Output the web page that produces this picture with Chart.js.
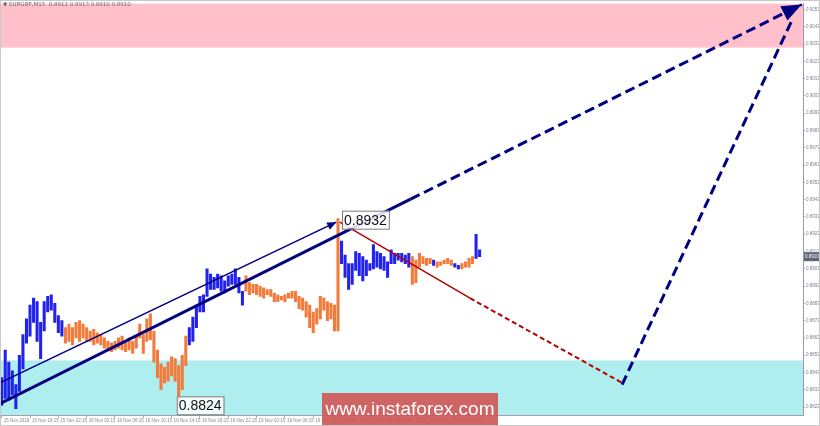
<!DOCTYPE html>
<html>
<head>
<meta charset="utf-8">
<script src="https://cdn.jsdelivr.net/npm/chart.js@4.4.1/dist/chart.umd.min.js"></script>
<style>
  html, body { margin: 0; padding: 0; background: #fff; }
  #wrap { width: 820px; height: 426px; position: relative; }
</style>
</head>
<body>
<div id="wrap"><canvas id="chart" width="820" height="426"></canvas></div>
<script>
// EURGBP M15, one entry = 30 min (x unit = one 15 min bar)
const timeLabels = [
  '15 Nov 2018', '15 Nov 18:15', '15 Nov 22:15', '16 Nov 02:15', '16 Nov 06:15',
  '16 Nov 10:15', '16 Nov 14:15', '16 Nov 18:15', '16 Nov 22:15', '19 Nov 02:15',
  '19 Nov 06:15', '19 Nov 10:15', '19 Nov 14:15', '19 Nov 18:15', '19 Nov 22:15',
  '20 Nov 02:15', '20 Nov 06:15'
];

const yTicks = [
  0.8823, 0.8833, 0.8843, 0.8853, 0.8863, 0.8873, 0.8883, 0.8893, 0.8903, 0.8913,
  0.8923, 0.8933, 0.8943, 0.8953, 0.8963, 0.8973, 0.8983, 0.8993, 0.9003, 0.9013,
  0.9023, 0.9033, 0.9043, 0.9053
];

const highs = [
  0.8840, 0.8856, 0.8849, 0.8844, 0.8836, 0.8853, 0.8865, 0.8874, 0.8882, 0.8886,
  0.8884, 0.8872, 0.8884, 0.8887, 0.8888, 0.8883, 0.8876, 0.8873, 0.8869, 0.8871,
  0.8869, 0.8872, 0.8873, 0.8871, 0.8869, 0.8867, 0.8868, 0.8866, 0.8865, 0.8863,
  0.8861, 0.8860, 0.8861, 0.8863, 0.8864, 0.8861, 0.8863, 0.8861, 0.8864, 0.8871,
  0.8865, 0.8874, 0.8877, 0.8867, 0.8856, 0.8848, 0.8846, 0.8849, 0.8852, 0.8851,
  0.8847, 0.8853, 0.8864, 0.8869, 0.8875, 0.8882, 0.8887, 0.8888, 0.8903, 0.8900,
  0.8898, 0.8900, 0.8899, 0.8896, 0.8899, 0.8900, 0.8903, 0.8898, 0.8890, 0.8899,
  0.8895, 0.8894, 0.8894, 0.8893, 0.8892, 0.8891, 0.8891, 0.8889, 0.8888, 0.8887,
  0.8888, 0.8889, 0.8890, 0.8890, 0.8887, 0.8886, 0.8884, 0.8882, 0.8878, 0.8880,
  0.8887, 0.8886, 0.8884, 0.8883, 0.8882, 0.8932, 0.8919, 0.8911, 0.8906, 0.8906,
  0.8913, 0.8912, 0.8910, 0.8908, 0.8906, 0.8917, 0.8913, 0.8912, 0.8910, 0.8907,
  0.8914, 0.8912, 0.8912, 0.8912, 0.8911, 0.8912, 0.8910, 0.8908, 0.8912, 0.8910,
  0.8909, 0.8909, 0.8908, 0.8907, 0.8907, 0.8908, 0.8909, 0.8908, 0.8906, 0.8905,
  0.8906, 0.8907, 0.8909, 0.8910, 0.8923, 0.8914
];

const lows = [
  0.8824, 0.8828, 0.8827, 0.8830, 0.8822, 0.8832, 0.8845, 0.8860, 0.8864, 0.8872,
  0.8861, 0.8851, 0.8867, 0.8878, 0.8879, 0.8872, 0.8866, 0.8864, 0.8860, 0.8861,
  0.8859, 0.8863, 0.8861, 0.8863, 0.8861, 0.8861, 0.8859, 0.8860, 0.8859, 0.8857,
  0.8856, 0.8855, 0.8856, 0.8857, 0.8856, 0.8855, 0.8856, 0.8854, 0.8857, 0.8863,
  0.8854, 0.8861, 0.8862, 0.8849, 0.8840, 0.8833, 0.8837, 0.8838, 0.8841, 0.8838,
  0.8824, 0.8833, 0.8847, 0.8859, 0.8861, 0.8869, 0.8878, 0.8878, 0.8887, 0.8891,
  0.8891, 0.8892, 0.8890, 0.8889, 0.8893, 0.8894, 0.8894, 0.8889, 0.8882, 0.8890,
  0.8888, 0.8889, 0.8888, 0.8887, 0.8886, 0.8888, 0.8887, 0.8884, 0.8884, 0.8885,
  0.8884, 0.8886, 0.8886, 0.8884, 0.8880, 0.8879, 0.8875, 0.8869, 0.8866, 0.8871,
  0.8874, 0.8879, 0.8873, 0.8874, 0.8867, 0.8867, 0.8906, 0.8898, 0.8891, 0.8894,
  0.8902, 0.8899, 0.8896, 0.8899, 0.8902, 0.8903, 0.8904, 0.8903, 0.8902, 0.8898,
  0.8906, 0.8906, 0.8908, 0.8907, 0.8906, 0.8904, 0.8894, 0.8895, 0.8904, 0.8906,
  0.8905, 0.8906, 0.8905, 0.8904, 0.8905, 0.8906, 0.8906, 0.8905, 0.8904, 0.8903,
  0.8903, 0.8904, 0.8904, 0.8906, 0.8909, 0.8910
];

// index ranges (inclusive) of bars drawn blue, the rest are orange
const blueRanges = [[0, 17], [53, 68], [96, 115], [122, 122], [128, 129], [134, 135]];

// wave extremes that get a price box (bar index)
const waveHigh = 95;
const waveLow = 50;

const lastQuote = [0.8912, 0.8913, 0.8910, 0.8910];

// zones (price)
const sellZone = [0.9031, 0.9060];
const buyZone = [0.8815, 0.8850];

// wave lines: [x (15 min bars), price]
const channelLine = [[-1, 0.8837], [189, 0.8930]];
const trendSolid = [[-1, 0.8825], [231, 0.89433]];
const trendDashed = [[231, 0.89433], [452, 0.9056]];
const targetUp = [[350.5, 0.8836], [447, 0.9048]];
const redSolid = [[191, 0.8930], [264.6, 0.8886]];
const redDashed = [[264.6, 0.8886], [350.5, 0.8837]];

const BLUE = '#2222ee';
const ORANGE = '#f27a3a';
const NAVY = '#000080';

const barData = highs.map((h, i) => ({ x: i * 2, y: [lows[i], h] }));
const barColors = highs.map((h, i) =>
  blueRanges.some(r => i >= r[0] && i <= r[1]) ? BLUE : ORANGE);

const pts = arr => arr.map(p => ({ x: p[0], y: p[1] }));

function lineSet(arr, color, width, dash, arrow) {
  return {
    type: 'line',
    data: pts(arr),
    borderColor: color,
    borderWidth: width,
    borderDash: dash || [],
    pointRadius: 0,
    fill: false,
    order: 1,
    arrow: arrow || null
  };
}

// zones behind everything
const zonePlugin = {
  id: 'zones',
  beforeDatasetsDraw(chart) {
    const { ctx, chartArea: a, scales: { y } } = chart;
    ctx.save();
    ctx.beginPath();
    ctx.rect(a.left, a.top, a.right - a.left, a.bottom - a.top);
    ctx.clip();
    ctx.fillStyle = '#ffc0cb';
    let t = y.getPixelForValue(sellZone[1]), b = y.getPixelForValue(sellZone[0]);
    ctx.fillRect(a.left, t, a.right - a.left, b - t);
    ctx.fillStyle = '#afeeee';
    t = y.getPixelForValue(buyZone[1]); b = y.getPixelForValue(buyZone[0]);
    ctx.fillRect(a.left, t, a.right - a.left, b - t);
    ctx.restore();
  }
};

// arrow heads, price boxes, watermark
const overlayPlugin = {
  id: 'overlay',
  afterDatasetsDraw(chart) {
    const { ctx, scales: { x, y } } = chart;
    ctx.save();
    chart.data.datasets.forEach(ds => {
      if (!ds.arrow) return;
      const p0 = ds.data[0], p1 = ds.data[ds.data.length - 1];
      const x0 = x.getPixelForValue(p0.x), y0 = y.getPixelForValue(p0.y);
      const x1 = x.getPixelForValue(p1.x), y1 = y.getPixelForValue(p1.y);
      const ang = Math.atan2(y1 - y0, x1 - x0);
      const L = ds.arrow[0], W = ds.arrow[1];
      ctx.fillStyle = ds.borderColor;
      ctx.beginPath();
      ctx.moveTo(x1, y1);
      ctx.lineTo(x1 - L * Math.cos(ang) + W * Math.sin(ang), y1 - L * Math.sin(ang) - W * Math.cos(ang));
      ctx.lineTo(x1 - L * Math.cos(ang) - W * Math.sin(ang), y1 - L * Math.sin(ang) + W * Math.cos(ang));
      ctx.closePath();
      ctx.fill();
    });

    // wave high / low price boxes
    const boxes = [
      { v: highs[waveHigh], px: x.getPixelForValue(waveHigh * 2) + 4, py: y.getPixelForValue(highs[waveHigh]) - 8 },
      { v: lows[waveLow], px: x.getPixelForValue(waveLow * 2) - 2, py: y.getPixelForValue(lows[waveLow]) - 9 }
    ];
    ctx.font = '14px "Liberation Sans", Arial, sans-serif';
    ctx.textBaseline = 'middle';
    ctx.textAlign = 'left';
    boxes.forEach(b => {
      const txt = b.v.toFixed(4);
      const w = ctx.measureText(txt).width + 4;
      ctx.fillStyle = 'rgba(255,255,255,0.85)';
      ctx.fillRect(b.px, b.py, w, 18);
      ctx.strokeStyle = '#7a7a7a';
      ctx.lineWidth = 1;
      ctx.strokeRect(b.px + 0.5, b.py + 0.5, w, 18);
      ctx.fillStyle = '#111';
      ctx.fillText(txt, b.px + 2, b.py + 10);
    });
    ctx.restore();
  },
  afterDraw(chart) {
    const { ctx, scales: { y } } = chart;
    ctx.save();
    // current price tag
    const cy = y.getPixelForValue(lastQuote[3]);
    ctx.fillStyle = '#5f6677';
    ctx.fillRect(804, cy - 4.5, 16, 9);
    ctx.fillStyle = '#fff';
    ctx.font = '4.5px "Liberation Sans", sans-serif';
    ctx.textAlign = 'left';
    ctx.textBaseline = 'middle';
    ctx.fillText(lastQuote[3].toFixed(4), 805, cy);
    // symbol header
    ctx.fillStyle = '#6a6a6a';
    ctx.font = '5.5px "DejaVu Sans", sans-serif';
    ctx.fillText('\u25BC EURGBP,M15  ' + lastQuote.map(v => v.toFixed(4)).join(' '), 3, 5);
    // watermark
    ctx.fillStyle = 'rgba(208, 88, 88, 0.92)';
    ctx.fillRect(322, 393, 176, 33);
    ctx.fillStyle = '#ffffff';
    ctx.font = '19px "Liberation Sans", Arial, sans-serif';
    ctx.textAlign = 'center';
    ctx.fillText('www.instaforex.com', 410, 410);
    // frame
    ctx.strokeStyle = '#c8c8c8';
    ctx.strokeRect(0.5, 0.5, 819, 425);
    ctx.restore();
  }
};

new Chart(document.getElementById('chart'), {
  data: {
    datasets: [
      {
        type: 'bar',
        data: barData,
        backgroundColor: barColors,
        barThickness: 2.4,
        grouped: false,
        order: 2
      },
      lineSet(channelLine, NAVY, 1.5, null, [9, 4]),
      lineSet(trendSolid, NAVY, 3),
      lineSet(trendDashed, NAVY, 3, [10, 5], [20, 8]),
      lineSet(targetUp, NAVY, 3, [10, 5]),
      lineSet(redSolid, '#b40000', 1.5),
      lineSet(redDashed, '#b40000', 2, [5, 3])
    ]
  },
  options: {
    responsive: false,
    animation: false,
    layout: { padding: 0 },
    plugins: { legend: { display: false }, tooltip: { enabled: false } },
    scales: {
      x: {
        type: 'linear',
        offset: false,
        min: -0.96,
        max: 452.7,
        grid: { drawOnChartArea: false, offset: false, tickLength: 3, color: '#a8a8b0' },
        border: { color: '#a0a0aa' },
        afterBuildTicks: s => { s.ticks = timeLabels.map((t, k) => ({ value: k * 16 })); },
        afterFit: s => { s.height = 11; },
        ticks: {
          autoSkip: false,
          maxRotation: 0,
          align: 'start',
          padding: 0,
          labelOffset: 2,
          color: '#8a8a8a',
          font: { size: 4.5, family: 'Liberation Sans' },
          callback: (v, i) => timeLabels[i]
        }
      },
      y: {
        position: 'right',
        min: 0.88184,
        max: 0.90564,
        grid: { drawOnChartArea: false, tickLength: 2, color: '#a8a8b0' },
        border: { color: '#9a9aa8' },
        afterBuildTicks: s => { s.ticks = yTicks.map(v => ({ value: v })); },
        afterFit: s => { s.width = 17; },
        ticks: {
          padding: 1,
          color: '#7e8392',
          font: { size: 4.5, family: 'Liberation Sans' },
          callback: v => v.toFixed(4)
        }
      }
    }
  },
  plugins: [zonePlugin, overlayPlugin]
});
</script>
</body>
</html>
